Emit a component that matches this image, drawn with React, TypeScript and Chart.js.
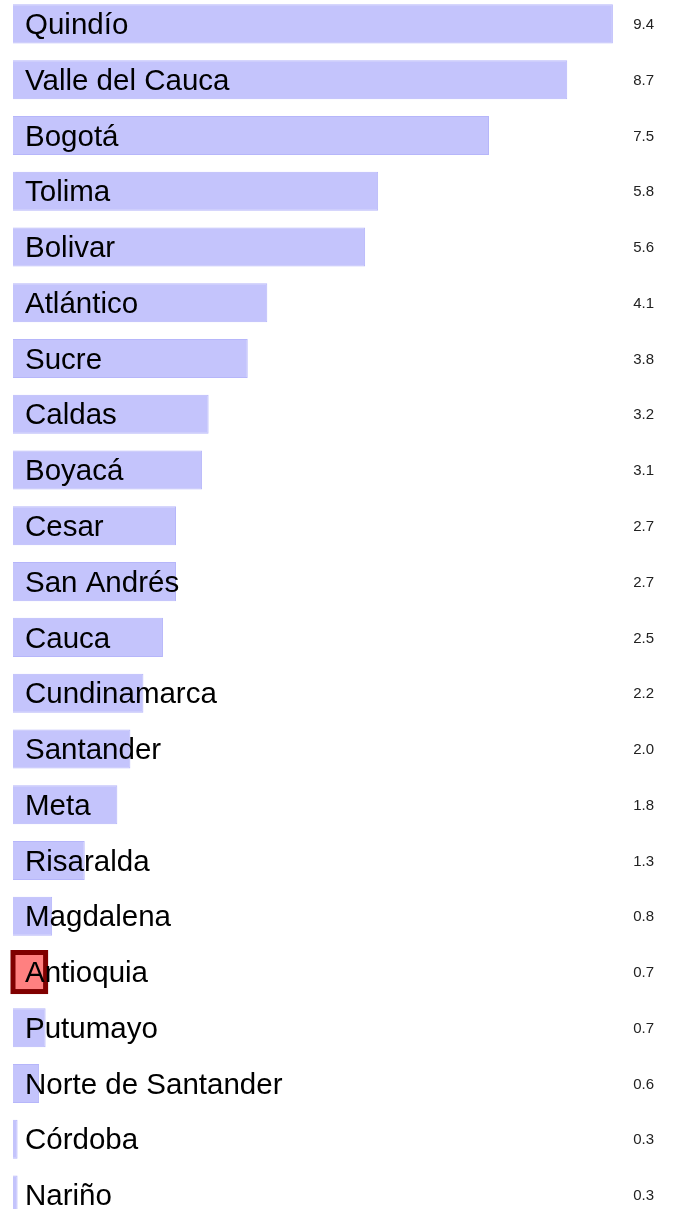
import React, { useEffect, useRef } from "react";
import { Chart, registerables } from "chart.js";

Chart.register(...registerables);

const categories: string[] = [
  "Quindío",
  "Valle del Cauca",
  "Bogotá",
  "Tolima",
  "Bolivar",
  "Atlántico",
  "Sucre",
  "Caldas",
  "Boyacá",
  "Cesar",
  "San Andrés",
  "Cauca",
  "Cundinamarca",
  "Santander",
  "Meta",
  "Risaralda",
  "Magdalena",
  "Antioquia",
  "Putumayo",
  "Norte de Santander",
  "Córdoba",
  "Nariño",
];

const values: number[] = [
  9.4, 8.7, 7.5, 5.8, 5.6, 4.1, 3.8, 3.2, 3.1, 2.7, 2.7, 2.5, 2.2, 2.0, 1.8,
  1.3, 0.8, 0.7, 0.7, 0.6, 0.27, 0.27,
];

const highlighted = "Antioquia";

const FONT = "'Liberation Sans', Arial, sans-serif";

const labelPlugin = {
  id: "barLabels",
  afterDatasetsDraw(chart: any) {
    const { ctx, chartArea } = chart;
    const meta = chart.getDatasetMeta(0);
    ctx.save();
    // highlight box
    meta.data.forEach((el: any, i: number) => {
      if (categories[i] !== highlighted) return;
      const left = Math.max(el.base, chartArea.left);
      const h = el.height;
      ctx.strokeStyle = "#800000";
      ctx.lineWidth = 5;
      ctx.strokeRect(left, el.y - h / 2, el.x - left, h);
    });
    // category labels
    ctx.fillStyle = "#000";
    ctx.textBaseline = "middle";
    ctx.textAlign = "left";
    ctx.font = `29.5px ${FONT}`;
    meta.data.forEach((el: any, i: number) => {
      ctx.fillText(categories[i], 25, el.y + 2);
    });
    // value labels
    ctx.fillStyle = "#222";
    ctx.textAlign = "right";
    ctx.font = `15px ${FONT}`;
    meta.data.forEach((el: any, i: number) => {
      ctx.fillText(values[i].toFixed(1), chartArea.right + 2, el.y + 1);
    });
    ctx.restore();
  },
};

export default function App() {
  const canvasRef = useRef<HTMLCanvasElement | null>(null);

  useEffect(() => {
    if (!canvasRef.current) return;
    const chart = new Chart(canvasRef.current, {
      type: "bar",
      data: {
        labels: categories,
        datasets: [
          {
            data: values,
            backgroundColor: categories.map((c) =>
              c === highlighted ? "rgb(255,128,128)" : "rgb(196,196,252)"
            ),
            borderColor: categories.map((c) =>
              c === highlighted ? "rgb(255,128,128)" : "rgb(182,182,250)"
            ),
            borderWidth: 1,
            barPercentage: 0.7,
            categoryPercentage: 1,
            clip: 0,
          } as any,
        ],
      },
      options: {
        indexAxis: "y",
        responsive: false,
        animation: false,
        layout: { padding: { left: 13, right: 21, top: 0, bottom: 0 } },
        scales: {
          x: { display: false, min: 0.2, max: 10 },
          y: { display: false },
        },
        plugins: {
          legend: { display: false },
          tooltip: { enabled: false },
        },
      },
      plugins: [labelPlugin],
    });
    return () => chart.destroy();
  }, []);

  return (
    <div
      style={{
        position: "fixed",
        top: 0,
        left: 0,
        width: 673,
        height: 1209,
        overflow: "hidden",
        background: "#fff",
      }}
    >
      <canvas
        ref={canvasRef}
        width={673}
        height={1227}
        style={{ display: "block", marginTop: -4, width: 673, height: 1227 }}
      />
    </div>
  );
}
